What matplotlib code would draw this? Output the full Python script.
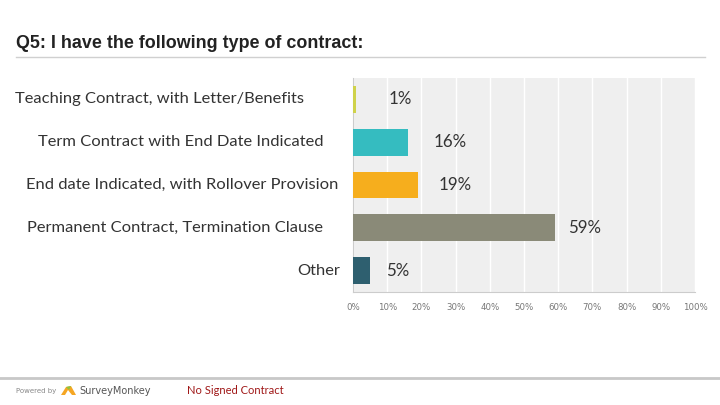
import matplotlib
matplotlib.use("Agg")
import matplotlib.pyplot as plt
import matplotlib.transforms as mtransforms
from matplotlib.patches import Polygon
from matplotlib.lines import Line2D

# ---- data ----
categories = [
    "Teaching Contract, with Letter/Benefits",
    "Term Contract with End Date Indicated",
    "End date Indicated, with Rollover Provision",
    "Permanent Contract, Termination Clause",
    "Other",
]
values = [1, 16, 19, 59, 5]
value_labels = ["1%", "16%", "19%", "59%", "5%"]
tick_values = [0, 10, 20, 30, 40, 50, 60, 70, 80, 90, 100]
tick_labels = ["0%", "10%", "20%", "30%", "40%", "50%", "60%", "70%", "80%", "90%", "100%"]
title = "Q5: I have the following type of contract:"
footer_note = "No Signed Contract"

# ---- style ----
colors = ["#cfd24a", "#35bcc0", "#f6ae1d", "#8a8a78", "#2e5f6f"]
label_right_px = [304, 323, 338, 323, 340]   # right edge of category labels (px)
value_offset_px = [32, 26, 21, 13, 16]       # gap from bar end to value label (px)

W, H, DPI = 720, 405, 100
fig = plt.figure(figsize=(W / DPI, H / DPI), dpi=DPI)
fig.patch.set_facecolor("white")

ax = fig.add_axes([353 / W, 1 - 292 / H, (695 - 353) / W, (292 - 78) / H])
ax.set_facecolor("#efefef")
ypos = list(range(len(categories)))
ax.barh(ypos, values, height=0.63, color=colors, zorder=3)
ax.set_xlim(0, 100)
ax.set_ylim(len(categories) - 0.5, -0.5)
ax.set_xticks(tick_values)
ax.set_xticklabels(tick_labels, fontsize=6.2, color="#777777", family="DejaVu Sans")
ax.tick_params(axis="x", length=0, pad=8)
ax.set_yticks([])
ax.grid(axis="x", color="white", linewidth=1, zorder=1)
for s in ["top", "right"]:
    ax.spines[s].set_visible(False)
ax.spines["left"].set_color("#cccccc")
ax.spines["bottom"].set_color("#cccccc")

label_font = "Lato"
# category labels
for i, cat in enumerate(categories):
    tr = mtransforms.blended_transform_factory(fig.transFigure, ax.transData)
    ax.text(label_right_px[i] / W, ypos[i], cat, transform=tr, ha="right", va="center",
            fontsize=11.85, color="#333333", family=label_font)

# value labels
for i, (v, lab) in enumerate(zip(values, value_labels)):
    tr = mtransforms.offset_copy(ax.transData, fig=fig, x=value_offset_px[i], y=0, units="dots")
    ax.text(v, ypos[i], lab, transform=tr, ha="left", va="center",
            fontsize=12.2, color="#333333", family=label_font)

# title
fig.text(16 / W, 1 - 44 / H, title, ha="left", va="center", fontsize=12.9,
         fontweight="bold", color="#222222", family=["Liberation Sans Narrow", "Liberation Sans"])
fig.add_artist(Line2D([16 / W, 705 / W], [1 - 57 / H, 1 - 57 / H], color="#d0d0d0", linewidth=1))

# footer
fig.add_artist(Line2D([0, 1], [1 - 378 / H, 1 - 378 / H], color="#c8c8c8", linewidth=2))
fig.text(16 / W, 1 - 391 / H, "Powered by", ha="left", va="center", fontsize=5,
         color="#888888", family="DejaVu Sans")
# small logo icon
icon = Polygon([[61 / W, 1 - 395 / H], [66 / W, 1 - 387 / H], [71 / W, 1 - 386 / H],
                [76 / W, 1 - 395 / H], [72 / W, 1 - 395 / H], [68 / W, 1 - 390 / H],
                [65 / W, 1 - 395 / H]], closed=True, transform=fig.transFigure,
               facecolor="#f5a623", edgecolor="none")
fig.add_artist(icon)
icon2 = Polygon([[66 / W, 1 - 387 / H], [71 / W, 1 - 386 / H], [69 / W, 1 - 390 / H]],
                closed=True, transform=fig.transFigure, facecolor="#8cc43f", edgecolor="none")
fig.add_artist(icon2)
fig.text(79 / W, 1 - 391 / H, "SurveyMonkey", ha="left", va="center", fontsize=7,
         color="#555555", family="DejaVu Sans")
fig.text(187 / W, 1 - 391 / H, footer_note, ha="left", va="center", fontsize=8,
         color="#a01818", family=label_font)

fig.savefig("out.png", dpi=DPI, facecolor="white")
